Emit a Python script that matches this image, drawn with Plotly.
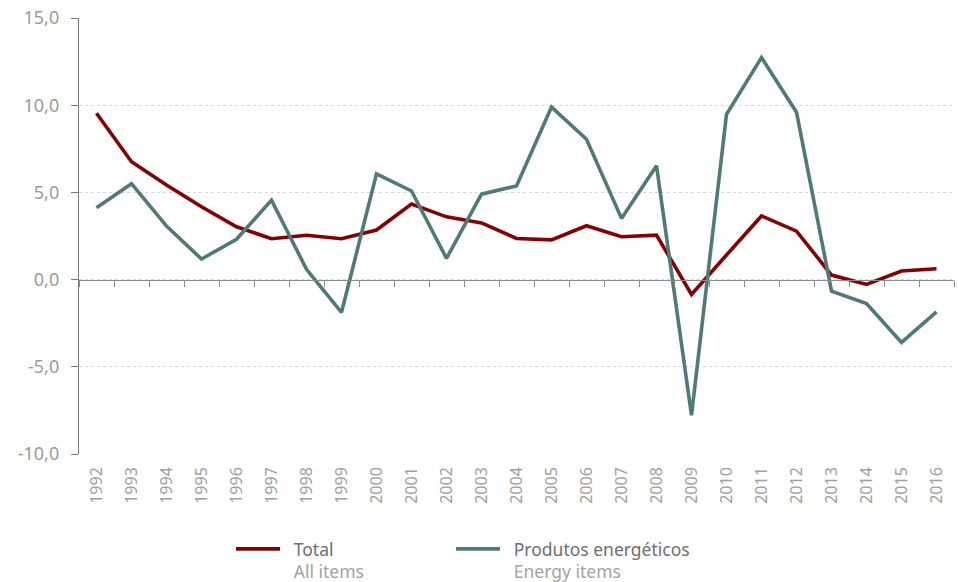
import plotly.graph_objects as go

# Annual rate of change (%), 1992-2016
years = [str(y) for y in range(1992, 2017)]
total = [9.54, 6.76, 5.42, 4.18, 3.03, 2.34, 2.54, 2.34, 2.84, 4.33,
         3.60, 3.25, 2.36, 2.28, 3.09, 2.46, 2.55, -0.85, 1.41, 3.65,
         2.78, 0.26, -0.28, 0.49, 0.62]
energy = [4.12, 5.50, 3.07, 1.18, 2.31, 4.56, 0.59, -1.88, 6.06, 5.08,
          1.22, 4.90, 5.37, 9.89, 8.05, 3.51, 6.53, -7.78, 9.48, 12.73,
          9.60, -0.66, -1.37, -3.60, -1.85]
y_ticks = [-10, -5, 0, 5, 10, 15]
y_tick_text = ["-10,0", "-5,0", "0,0", "5,0", "10,0", "15,0"]

RED = "#870000"
TEAL = "#4e7b78"
FONT = "Noto Sans"
Y_MIN, Y_MAX = -10, 15
PAD = "\u2002"


def legend_name(main, sub):
    return f"{PAD}{main}<br>{PAD}<span style='color:#a3a3a3'>{sub}</span>"


def legend_box(left_px):
    return dict(
        orientation="h", x=(left_px - 79) / 875, xanchor="left",
        yref="container", y=1 - 531 / 582, yanchor="top", valign="top",
        font=dict(size=17.5, color="#6e6e6e", family=FONT),
        itemwidth=44, bgcolor="rgba(0,0,0,0)",
    )


fig = go.Figure()
fig.add_trace(go.Scatter(
    x=years, y=total, mode="lines",
    name=legend_name("Total", "All items"),
    line=dict(color=RED, width=3.6), legend="legend",
))
fig.add_trace(go.Scatter(
    x=years, y=energy, mode="lines",
    name=legend_name("Produtos energéticos", "Energy items"),
    line=dict(color=TEAL, width=3.6), legend="legend2",
))

# invisible helper trace so the zero-line axis (ticks between years) has data
fig.add_trace(go.Scatter(x=years, y=[None] * len(years), xaxis="x2",
                         showlegend=False, hoverinfo="skip"))

zero_pos = (0 - Y_MIN) / (Y_MAX - Y_MIN)

fig.update_layout(
    width=958, height=582,
    margin=dict(l=79, r=4, t=18, b=128, autoexpand=False),
    paper_bgcolor="white", plot_bgcolor="white",
    font=dict(family=FONT, color="#999999"),
    xaxis=dict(
        type="category", range=[-0.5, len(years) - 0.5],
        showline=False, showgrid=False, zeroline=False, ticks="",
        tickangle=-90, tickfont=dict(size=16, color="#a0a0a0"),
        ticklabelstandoff=9, automargin=False,
    ),
    xaxis2=dict(
        type="category", overlaying="x", anchor="free", position=zero_pos,
        range=[-0.5, len(years) - 0.5], matches="x",
        showline=True, linecolor="#8c8c8c", linewidth=1.3,
        ticks="outside", tickson="boundaries", ticklen=6,
        tickcolor="#8c8c8c", tickwidth=1.3,
        showticklabels=False, showgrid=False,
    ),
    yaxis=dict(
        range=[Y_MIN, Y_MAX], tickvals=y_ticks, ticktext=y_tick_text,
        showline=True, linecolor="#7a7a7a", linewidth=1.3,
        ticks="outside", ticklen=7, tickcolor="#7a7a7a", tickwidth=1.3,
        showgrid=True, gridcolor="#d8d8d8", griddash="dot", gridwidth=1,
        zeroline=False, automargin=False, ticklabelstandoff=8,
        tickfont=dict(size=18, color="#9a9a9a"),
    ),
    legend=legend_box(231),
    legend2=legend_box(451),
    showlegend=True,
)

fig.write_html("out.html")
